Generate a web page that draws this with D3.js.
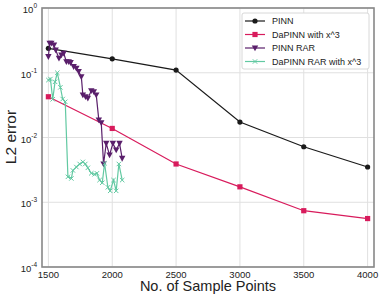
<!DOCTYPE html>
<html>
<head>
<meta charset="utf-8">
<script src="https://cdn.jsdelivr.net/npm/d3@7"></script>
<style>
  body { margin: 0; background: #fff; }
  text { font-family: "Liberation Sans", Arial, sans-serif; fill: #222; }
</style>
</head>
<body>
<div id="chart"></div>
<script>
// data
var pinnX = [1500, 2000, 2500, 3000, 3500, 4000];
var pinnY = [0.238, 0.164, 0.11, 0.0173, 0.0072, 0.0035];

var dapinnX = [1500, 2000, 2500, 3000, 3500, 4000];
var dapinnY = [0.0426, 0.0138, 0.0039, 0.00173, 0.00074, 0.00056];

var rarX = [1500, 1510, 1523, 1544, 1557, 1583, 1602, 1620, 1641, 1659, 1674, 1698, 1719, 1737, 1758,
  1770, 1791, 1809, 1836, 1856, 1875, 1895, 1914, 1932, 1953, 1979, 2005, 2031, 2057, 2078];
var rarY = [0.177, 0.285, 0.285, 0.268, 0.224, 0.167, 0.188, 0.2, 0.148, 0.148, 0.143, 0.124, 0.117, 0.104, 0.0867,
  0.0452, 0.0426, 0.0402, 0.0527, 0.0508, 0.0452, 0.0186, 0.0169, 0.0039, 0.0081, 0.00535, 0.0081, 0.0064, 0.0081, 0.00475];

var darX = [1500, 1516, 1534, 1552, 1570, 1594, 1612, 1632, 1653, 1680, 1692, 1719, 1745, 1770, 1789, 1809,
  1836, 1862, 1880, 1901, 1922, 1940, 1966, 1984, 2010, 2031, 2052, 2078];
var darY = [0.0771, 0.080, 0.0389, 0.0724, 0.100, 0.0595, 0.0393, 0.0356, 0.00247, 0.00233, 0.0031, 0.0035, 0.0039, 0.0042,
  0.0039, 0.0034, 0.0028, 0.0027, 0.0028, 0.0022, 0.0020, 0.0040, 0.0017, 0.0015, 0.0022, 0.0015, 0.0039, 0.0022];

var xTicks = [1500, 2000, 2500, 3000, 3500, 4000];
var yTicks = [0, -1, -2, -3, -4];

var series = [
  {name: "PINN", xs: pinnX, ys: pinnY, color: "#1a1a1a", marker: "circle"},
  {name: "DaPINN with x^3", xs: dapinnX, ys: dapinnY, color: "#d81b5c", marker: "square"},
  {name: "PINN RAR", xs: rarX, ys: rarY, color: "#5a1f6b", marker: "tri"},
  {name: "DaPINN RAR with x^3", xs: darX, ys: darY, color: "#62c9a2", marker: "x"}
];

var width = 382, height = 297,
  margin = {top: 8, left: 42, bottom: 30, right: 8};

var svg = d3.select("#chart").append("svg")
  .attr("width", width)
  .attr("height", height);

var x = d3.scaleLinear().domain([1450, 4050]).range([margin.left, width - margin.right]);
var y = d3.scaleLog().domain([1e-4, 1]).range([height - margin.bottom, margin.top]);

// grid
svg.append("g").selectAll("line")
  .data(xTicks).enter().append("line")
  .attr("x1", function(d) { return x(d); }).attr("x2", function(d) { return x(d); })
  .attr("y1", y(1)).attr("y2", y(1e-4))
  .attr("stroke", "#e0e0e0").attr("stroke-width", 1);
svg.append("g").selectAll("line")
  .data(yTicks).enter().append("line")
  .attr("x1", x(1450)).attr("x2", x(4050))
  .attr("y1", function(d) { return y(Math.pow(10, d)); }).attr("y2", function(d) { return y(Math.pow(10, d)); })
  .attr("stroke", "#e0e0e0").attr("stroke-width", 1);

var line = d3.line()
  .x(function(d) { return x(d[0]); })
  .y(function(d) { return y(d[1]); });

function drawMarker(g, type, color) {
  if (type == "circle") {
    g.append("circle").attr("r", 2.6).attr("fill", color);
  } else if (type == "square") {
    g.append("rect").attr("x", -2.6).attr("y", -2.6).attr("width", 5.2).attr("height", 5.2).attr("fill", color);
  } else if (type == "tri") {
    g.append("path").attr("d", "M-3.2,-2.6L3.2,-2.6L0,3.2Z").attr("fill", color);
  } else {
    g.append("path").attr("d", "M-2.2,-2.2L2.2,2.2M-2.2,2.2L2.2,-2.2")
      .attr("stroke", color).attr("stroke-width", 1).attr("fill", "none");
  }
}

series.forEach(function(s) {
  var pts = s.xs.map(function(v, i) { return [v, s.ys[i]]; });
  var g = svg.append("g");
  g.append("path")
    .attr("d", line(pts))
    .attr("fill", "none")
    .attr("stroke", s.color)
    .attr("stroke-width", 1.2);
  g.selectAll("g.m").data(pts).enter().append("g")
    .attr("class", "m")
    .attr("transform", function(d) { return "translate(" + x(d[0]) + "," + y(d[1]) + ")"; })
    .each(function() { drawMarker(d3.select(this), s.marker, s.color); });
});

// frame
svg.append("rect")
  .attr("x", x(1450)).attr("y", y(1))
  .attr("width", x(4050) - x(1450)).attr("height", y(1e-4) - y(1))
  .attr("fill", "none").attr("stroke", "#888").attr("stroke-width", 1.6);

// tick labels
svg.append("g").selectAll("text")
  .data(xTicks).enter().append("text")
  .attr("x", function(d) { return x(d); })
  .attr("y", y(1e-4) + 10.5)
  .attr("text-anchor", "middle")
  .attr("font-size", 9.5)
  .text(function(d) { return d; });

var yl = svg.append("g").selectAll("text")
  .data(yTicks).enter().append("text")
  .attr("x", x(1450) - 5)
  .attr("y", function(d) { return y(Math.pow(10, d)) + 5; })
  .attr("text-anchor", "end")
  .attr("font-size", 9.5);
yl.append("tspan").text("10");
yl.append("tspan").attr("dy", -5).attr("font-size", 6.5).text(function(d) { return d; });

// axis titles
svg.append("text")
  .attr("x", 208)
  .attr("y", 291)
  .attr("text-anchor", "middle")
  .attr("font-size", 14.5)
  .text("No. of Sample Points");

svg.append("text")
  .attr("transform", "translate(16," + 137 + ") rotate(-90)")
  .attr("text-anchor", "middle")
  .attr("font-size", 15.5)
  .text("L2 error");

// legend
var lg = svg.append("g").attr("transform", "translate(242,13)");
lg.append("rect")
  .attr("width", 127).attr("height", 56).attr("rx", 2)
  .attr("fill", "#fff").attr("stroke", "#d8d8d8").attr("stroke-width", 1);
series.forEach(function(s, i) {
  var row = lg.append("g").attr("transform", "translate(0," + (8 + i * 13.5) + ")");
  row.append("line").attr("x1", 3).attr("x2", 23).attr("stroke", s.color).attr("stroke-width", 1.2);
  drawMarker(row.append("g").attr("transform", "translate(13,0)"), s.marker, s.color);
  row.append("text").attr("x", 30).attr("y", 3.3).attr("font-size", 9).text(s.name);
});
</script>
</body>
</html>
